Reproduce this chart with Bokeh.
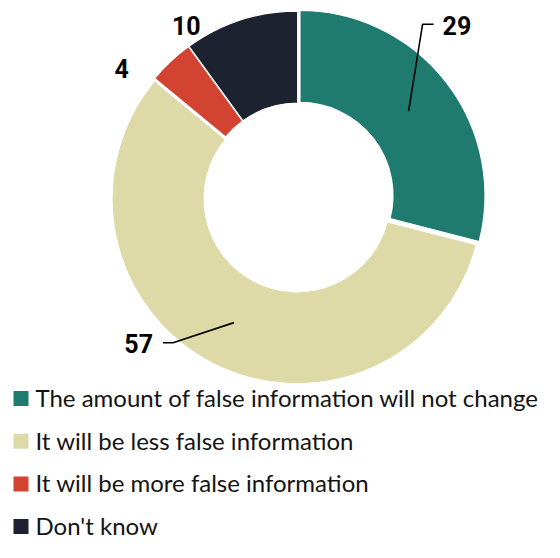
import math
from bokeh.plotting import figure
from bokeh.models import Range1d
from bokeh.core.properties import value
from bokeh.embed import file_html
from bokeh.resources import INLINE

# ---- data ----
categories = ["The amount of false information will not change",
              "It will be less false information",
              "It will be more false information",
              "Don't know"]
values = [29, 57, 4, 10]
labels = ["29", "57", "4", "10"]
colors = ["#1f7a70", "#dedaa8", "#d24332", "#1c2230"]

# ---- layout (pixel coordinates, y measured downward from top) ----
W, H = 544, 542
CX, CY = 297.5, 196.5
R_OUT, R_IN = 185, 93
explode = [2.5, 2.0, 1.0, 1.0]


def Y(y_img):
    return H - y_img


p = figure(width=W, height=H, output_backend="svg", toolbar_location=None,
           x_range=Range1d(0, W), y_range=Range1d(0, H),
           min_border=0, outline_line_color=None)
p.axis.visible = False
p.grid.visible = False
p.background_fill_color = "white"

total = float(sum(values))
cum = 0.0
mids = []
for v, c, ex in zip(values, colors, explode):
    a0 = cum / total * 360.0
    a1 = (cum + v) / total * 360.0
    cum += v
    mid = (a0 + a1) / 2.0
    mids.append(mid)
    dx = ex * math.sin(math.radians(mid))
    dy = ex * math.cos(math.radians(mid))
    p.annular_wedge(x=CX + dx, y=Y(CY) + dy, inner_radius=R_IN, outer_radius=R_OUT,
                    start_angle=math.radians(90 - a0), end_angle=math.radians(90 - a1),
                    direction="clock", fill_color=c, line_color="white", line_width=1.2)


def polar(theta_deg, r):
    t = math.radians(theta_deg)
    return CX + r * math.sin(t), CY - r * math.cos(t)


lab_font = value("Roboto")
# label 29 with leader
sx, sy = polar(mids[0], 140)
ex_, ey_ = polar(35.8, 213)
p.line([sx, ex_, ex_ + 11], [Y(sy), Y(ey_), Y(ey_)], line_color="black", line_width=1.6)
p.text(x=[ex_ + 9 + 11], y=[Y(ey_) - 1], text=[labels[0]], text_font=lab_font,
       text_font_size="25px", text_font_style="bold", text_align="left",
       text_baseline="middle", text_color="black")

# label 57 with leader
sx, sy = polar(mids[1], 141)
ex_, ey_ = polar(220.6, 192)
p.line([sx, ex_, ex_ - 10], [Y(sy), Y(ey_), Y(ey_)], line_color="black", line_width=1.6)
p.text(x=[ex_ - 10 - 10], y=[Y(ey_) - 1], text=[labels[1]], text_font=lab_font,
       text_font_size="25px", text_font_style="bold", text_align="right",
       text_baseline="middle", text_color="black")

# labels 4 and 10
for i, (th, r) in zip([2, 3], [(306, 218), (327, 205)]):
    lx, ly = polar(th, r)
    p.text(x=[lx], y=[Y(ly)], text=[labels[i]], text_font=lab_font,
           text_font_size="25px", text_font_style="bold", text_align="center",
           text_baseline="middle", text_color="black")

# legend
leg_y = [398 + 42.7 * i for i in range(len(categories))]
p.scatter(x=[20.5] * 4, y=[Y(v) for v in leg_y], marker="square", size=15,
          fill_color=colors, line_color=None)
p.text(x=[35] * 4, y=[Y(v) + 1 for v in leg_y], text=categories,
       text_font=value("Lato"), text_font_size="24px", text_align="left",
       text_baseline="middle", text_color="#141414")

open("out.html", "w").write(file_html(p, INLINE))
